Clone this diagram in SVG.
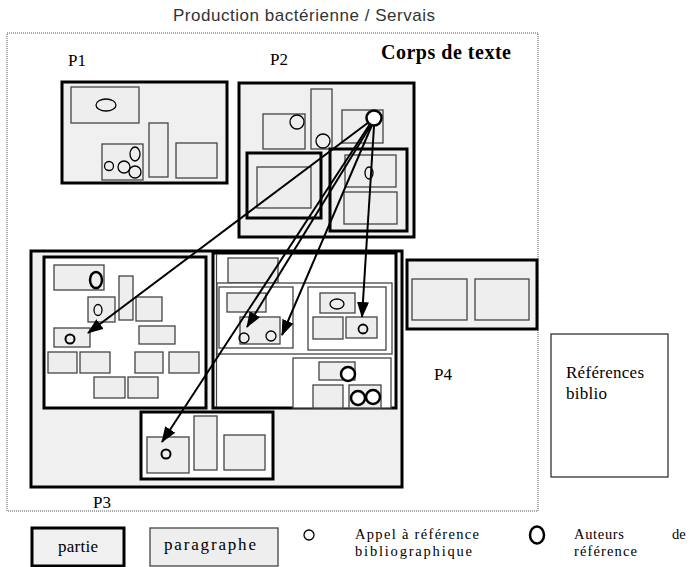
<svg xmlns="http://www.w3.org/2000/svg" width="696" height="567" viewBox="0 0 696 567">
<defs>
<marker id="ah" markerWidth="16" markerHeight="12" refX="15" refY="6" orient="auto" markerUnits="userSpaceOnUse"><path d="M0,0 L16,6 L0,12 z" fill="#000"/></marker>
</defs>
<style>
.part{fill:#f0f0f0;stroke:#000;stroke-width:3}
.partw{fill:#fff;stroke:#000;stroke-width:3}
.para{fill:#eeeeee;stroke:#444;stroke-width:1.3}
.box{fill:#fff;stroke:#444;stroke-width:1.3}
.cs{fill:none;stroke:#000;stroke-width:1.3}
.cb{fill:none;stroke:#000;stroke-width:2.5}
.ser{font-family:"Liberation Serif","Times New Roman",serif;font-size:17px;fill:#000}
.leg{font-family:"Liberation Serif","Times New Roman",serif;font-size:14.5px;fill:#000}
.conn line{stroke:#000;stroke-width:2;marker-end:url(#ah)}
</style>
<rect width="696" height="567" fill="#fff"/>
<text x="173" y="21" textLength="262" font-family="Liberation Sans, Arial, sans-serif" font-size="17" fill="#333">Production bactérienne / Servais</text>
<rect x="7" y="33" width="531" height="478" fill="none" stroke="#555" stroke-width="1" stroke-dasharray="1,1"/>
<text x="381" y="59" textLength="130" font-family="Liberation Serif, serif" font-weight="bold" font-size="20">Corps de texte</text>

<g id="P1">
<text class="ser" x="68" y="66">P1</text>
<rect class="part" x="62" y="82" width="165" height="101"/>
<rect class="para" x="71" y="87" width="68" height="36"/>
<ellipse class="cs" cx="106" cy="105" rx="10" ry="6"/>
<rect class="para" x="102" y="144" width="41" height="36"/>
<circle class="cs" cx="109" cy="166" r="4.5"/>
<circle class="cs" cx="124" cy="167" r="6"/>
<ellipse class="cs" cx="135" cy="154" rx="5" ry="7"/>
<circle class="cs" cx="135" cy="172" r="6"/>
<rect class="para" x="149" y="123" width="19" height="54"/>
<rect class="para" x="176" y="143" width="41" height="35"/>
</g>

<g id="P2">
<text class="ser" x="270" y="65">P2</text>
<rect class="part" x="239" y="83" width="175" height="154"/>
<rect class="para" x="263" y="114" width="42" height="35"/>
<circle class="cs" cx="297" cy="122" r="7"/>
<rect class="para" x="311" y="89" width="21" height="60"/>
<circle class="cs" cx="323" cy="141" r="7"/>
<rect class="para" x="342" y="110" width="41" height="33"/>
<rect class="part" x="247" y="153" width="74" height="65"/>
<rect class="para" x="257" y="167" width="54" height="41"/>
<rect class="part" x="330" y="149" width="77" height="82"/>
<rect class="para" x="345" y="155" width="51" height="32"/>
<ellipse class="cs" cx="369" cy="173" rx="4" ry="6"/>
<rect class="para" x="344" y="192" width="53" height="32"/>
<circle cx="374" cy="118" r="7.5" fill="#fff" stroke="#000" stroke-width="2.5"/>
</g>

<g id="P3">
<rect class="part" x="31" y="251" width="371" height="236"/>
<text class="ser" x="93" y="508">P3</text>
<rect class="partw" x="44" y="257" width="162" height="151"/>
<rect class="para" x="54" y="265" width="50" height="25"/>
<ellipse class="cb" cx="96" cy="280" rx="6" ry="8"/>
<rect class="para" x="88" y="297" width="27" height="25"/>
<ellipse class="cs" cx="98" cy="310" rx="4" ry="5.5"/>
<rect class="para" x="119" y="276" width="14" height="44"/>
<rect class="para" x="136" y="297" width="26" height="24"/>
<rect class="para" x="54" y="328" width="36" height="19"/>
<circle class="cb" cx="70" cy="339" r="4.5" style="stroke-width:2"/>
<rect class="para" x="139" y="326" width="36" height="18"/>
<rect class="para" x="48" y="352" width="29" height="21"/>
<rect class="para" x="80" y="352" width="30" height="21"/>
<rect class="para" x="135" y="352" width="28" height="21"/>
<rect class="para" x="169" y="352" width="30" height="21"/>
<rect class="para" x="94" y="377" width="31" height="21"/>
<rect class="para" x="128" y="377" width="30" height="21"/>

<rect class="partw" x="213" y="253" width="183" height="155"/>
<line x1="216.5" y1="254" x2="216.5" y2="407" stroke="#444" stroke-width="1.2"/>
<rect class="para" x="228" y="258" width="50" height="25"/>
<rect class="box" x="217" y="283" width="175" height="71"/>
<rect class="box" x="219" y="287" width="74" height="61"/>
<rect class="para" x="227" y="293" width="39" height="19"/>
<rect class="para" x="240" y="317" width="40" height="27"/>
<circle class="cs" cx="244" cy="338" r="5"/>
<circle class="cs" cx="271" cy="336" r="5"/>
<rect class="box" x="308" y="287" width="78" height="63"/>
<rect class="para" x="320" y="293" width="35" height="20"/>
<ellipse class="cs" cx="337" cy="304" rx="7" ry="5"/>
<rect class="para" x="313" y="317" width="30" height="22"/>
<rect class="para" x="346" y="317" width="31" height="21"/>
<circle class="cs" cx="363" cy="329" r="4.5" style="stroke-width:1.8"/>
<rect class="box" x="293" y="358" width="98" height="50"/>
<rect class="para" x="319" y="362" width="36" height="18"/>
<circle cx="348" cy="374" r="7" fill="#fff" stroke="#000" stroke-width="2.5"/>
<rect class="para" x="313" y="385" width="30" height="23"/>
<rect class="para" x="349" y="385" width="32" height="23"/>
<circle cx="358" cy="398" r="7" fill="#fff" stroke="#000" stroke-width="2.5"/>
<circle cx="373" cy="397" r="7" fill="#fff" stroke="#000" stroke-width="2.5"/>

<rect class="partw" x="141" y="412" width="132" height="67"/>
<rect class="para" x="147" y="437" width="42" height="36"/>
<circle class="cb" cx="166" cy="454" r="4.5" style="stroke-width:2"/>
<rect class="para" x="194" y="416" width="23" height="54"/>
<rect class="para" x="224" y="435" width="41" height="35"/>
</g>

<g id="P4">
<rect class="part" x="407" y="260" width="130" height="69"/>
<rect class="para" x="412" y="279" width="55" height="41"/>
<rect class="para" x="475" y="279" width="54" height="41"/>
<text class="ser" x="434" y="380">P4</text>
</g>

<g id="refs">
<rect x="551" y="334" width="117" height="143" fill="#fff" stroke="#222" stroke-width="1.2"/>
<text class="ser" x="566" y="378" textLength="78">Références</text>
<text class="ser" x="566" y="399" textLength="41">biblio</text>
</g>

<g class="conn" id="connectors">
<line x1="369" y1="122" x2="88" y2="333"/>
<line x1="370" y1="124" x2="162" y2="442"/>
<line x1="371" y1="125" x2="247" y2="327"/>
<line x1="372" y1="125" x2="282" y2="335"/>
<line x1="374" y1="126" x2="362" y2="317"/>
</g>

<g id="legend">
<rect class="part" x="32" y="528" width="92" height="38"/>
<text class="ser" x="58" y="552" textLength="40">partie</text>
<rect class="para" x="150" y="528" width="128" height="38"/>
<text class="ser" x="164" y="550" textLength="92">paragraphe</text>
<circle class="cs" cx="309" cy="535" r="5"/>
<text class="leg" x="355" y="539" textLength="124">Appel à référence</text>
<text class="leg" x="355" y="556" textLength="117">bibliographique</text>
<ellipse class="cb" cx="537" cy="535" rx="7" ry="8.5"/>
<text class="leg" x="574" y="539" textLength="50">Auteurs</text>
<text class="leg" x="672" y="539">de</text>
<text class="leg" x="574" y="556" textLength="63">référence</text>
</g>
</svg>
